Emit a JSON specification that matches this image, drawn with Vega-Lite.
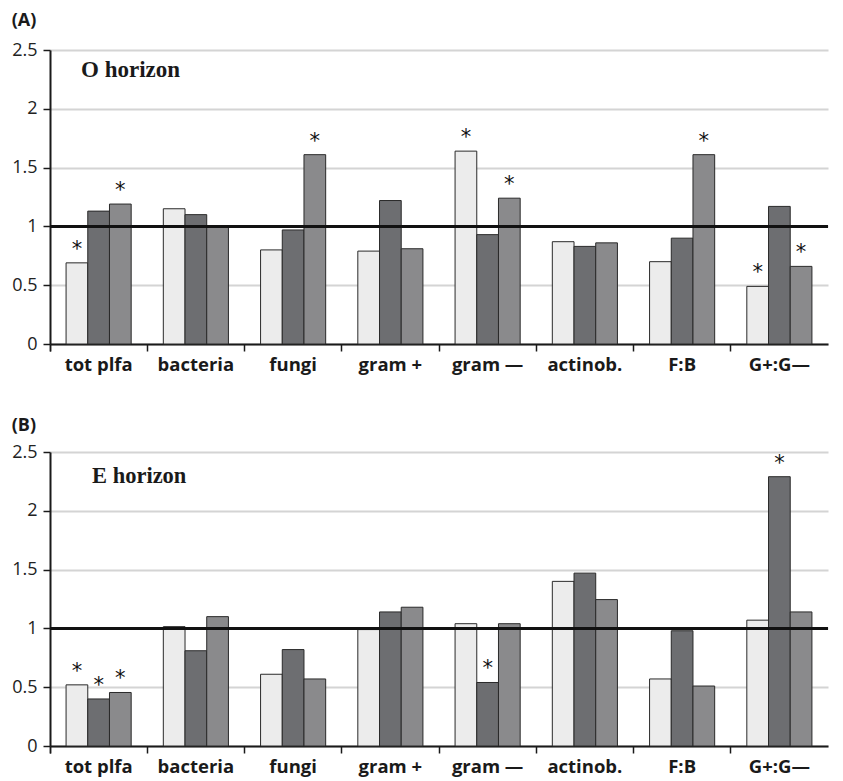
{
  "$schema": "https://vega.github.io/schema/vega-lite/v6.json",
  "padding": {"left": 11, "top": 12, "right": 10, "bottom": 3},
  "background": "white",
  "config": {
    "view": {"stroke": null},
    "font": "Open Sans",
    "concat": {"spacing": 43},
    "axisX": {
      "title": null, "labelAngle": 0, "bandPosition": 0, "tickExtra": true,
      "domainColor": "#1a1a1a", "domainWidth": 2, "tickColor": "#1a1a1a", "tickWidth": 1.5, "tickSize": 7,
      "labelFont": "Open Sans", "labelFontSize": 18.5, "labelFontWeight": "bold", "labelColor": "#1a1a1a", "labelPadding": 4, "grid": false
    },
    "axisY": {
      "title": null,
      "grid": true, "gridColor": "#d4d4d4", "gridWidth": 2,
      "domainColor": "#1a1a1a", "domainWidth": 2, "tickColor": "#1a1a1a", "tickWidth": 1.5, "tickSize": 7,
      "labelFont": "Open Sans", "labelFontSize": 18, "labelColor": "#222222", "labelPadding": 6
    }
  },
  "datasets": {
    "bars": [
      {"panel": "A", "cat": "tot plfa", "series": "1", "value": 0.69, "sig": "*"},
      {"panel": "A", "cat": "tot plfa", "series": "2", "value": 1.13, "sig": ""},
      {"panel": "A", "cat": "tot plfa", "series": "3", "value": 1.19, "sig": "*"},
      {"panel": "A", "cat": "bacteria", "series": "1", "value": 1.15, "sig": ""},
      {"panel": "A", "cat": "bacteria", "series": "2", "value": 1.10, "sig": ""},
      {"panel": "A", "cat": "bacteria", "series": "3", "value": 1.00, "sig": ""},
      {"panel": "A", "cat": "fungi", "series": "1", "value": 0.80, "sig": ""},
      {"panel": "A", "cat": "fungi", "series": "2", "value": 0.97, "sig": ""},
      {"panel": "A", "cat": "fungi", "series": "3", "value": 1.61, "sig": "*"},
      {"panel": "A", "cat": "gram +", "series": "1", "value": 0.79, "sig": ""},
      {"panel": "A", "cat": "gram +", "series": "2", "value": 1.22, "sig": ""},
      {"panel": "A", "cat": "gram +", "series": "3", "value": 0.81, "sig": ""},
      {"panel": "A", "cat": "gram —", "series": "1", "value": 1.64, "sig": "*"},
      {"panel": "A", "cat": "gram —", "series": "2", "value": 0.93, "sig": ""},
      {"panel": "A", "cat": "gram —", "series": "3", "value": 1.24, "sig": "*"},
      {"panel": "A", "cat": "actinob.", "series": "1", "value": 0.87, "sig": ""},
      {"panel": "A", "cat": "actinob.", "series": "2", "value": 0.83, "sig": ""},
      {"panel": "A", "cat": "actinob.", "series": "3", "value": 0.86, "sig": ""},
      {"panel": "A", "cat": "F:B", "series": "1", "value": 0.70, "sig": ""},
      {"panel": "A", "cat": "F:B", "series": "2", "value": 0.90, "sig": ""},
      {"panel": "A", "cat": "F:B", "series": "3", "value": 1.61, "sig": "*"},
      {"panel": "A", "cat": "G+:G—", "series": "1", "value": 0.49, "sig": "*"},
      {"panel": "A", "cat": "G+:G—", "series": "2", "value": 1.17, "sig": ""},
      {"panel": "A", "cat": "G+:G—", "series": "3", "value": 0.66, "sig": "*"},
      {"panel": "B", "cat": "tot plfa", "series": "1", "value": 0.52, "sig": "*"},
      {"panel": "B", "cat": "tot plfa", "series": "2", "value": 0.40, "sig": "*"},
      {"panel": "B", "cat": "tot plfa", "series": "3", "value": 0.455, "sig": "*"},
      {"panel": "B", "cat": "bacteria", "series": "1", "value": 1.015, "sig": ""},
      {"panel": "B", "cat": "bacteria", "series": "2", "value": 0.81, "sig": ""},
      {"panel": "B", "cat": "bacteria", "series": "3", "value": 1.10, "sig": ""},
      {"panel": "B", "cat": "fungi", "series": "1", "value": 0.61, "sig": ""},
      {"panel": "B", "cat": "fungi", "series": "2", "value": 0.82, "sig": ""},
      {"panel": "B", "cat": "fungi", "series": "3", "value": 0.57, "sig": ""},
      {"panel": "B", "cat": "gram +", "series": "1", "value": 0.99, "sig": ""},
      {"panel": "B", "cat": "gram +", "series": "2", "value": 1.14, "sig": ""},
      {"panel": "B", "cat": "gram +", "series": "3", "value": 1.18, "sig": ""},
      {"panel": "B", "cat": "gram —", "series": "1", "value": 1.04, "sig": ""},
      {"panel": "B", "cat": "gram —", "series": "2", "value": 0.54, "sig": "*"},
      {"panel": "B", "cat": "gram —", "series": "3", "value": 1.04, "sig": ""},
      {"panel": "B", "cat": "actinob.", "series": "1", "value": 1.40, "sig": ""},
      {"panel": "B", "cat": "actinob.", "series": "2", "value": 1.47, "sig": ""},
      {"panel": "B", "cat": "actinob.", "series": "3", "value": 1.245, "sig": ""},
      {"panel": "B", "cat": "F:B", "series": "1", "value": 0.57, "sig": ""},
      {"panel": "B", "cat": "F:B", "series": "2", "value": 0.98, "sig": ""},
      {"panel": "B", "cat": "F:B", "series": "3", "value": 0.51, "sig": ""},
      {"panel": "B", "cat": "G+:G—", "series": "1", "value": 1.07, "sig": ""},
      {"panel": "B", "cat": "G+:G—", "series": "2", "value": 2.29, "sig": "*"},
      {"panel": "B", "cat": "G+:G—", "series": "3", "value": 1.14, "sig": ""}
    ]
  },
  "vconcat": [
    {
      "width": 778, "height": 294,
      "title": {"text": "(A)", "anchor": "start", "frame": "bounds", "font": "Open Sans", "fontSize": 18, "fontWeight": "bold", "color": "#1a1a1a", "offset": 11},
      "layer": [
        {
          "data": {"name": "bars"},
          "transform": [{"filter": "datum.panel === 'A'"}],
          "mark": {"type": "bar", "stroke": "#2a2a2a", "strokeWidth": 1},
          "encoding": {
            "x": {"field": "cat", "type": "nominal", "sort": ["tot plfa", "bacteria", "fungi", "gram +", "gram —", "actinob.", "F:B", "G+:G—"], "scale": {"paddingInner": 0, "paddingOuter": 0}},
            "xOffset": {"field": "series", "type": "nominal", "scale": {"paddingInner": 0, "paddingOuter": 0.74}},
            "y": {"field": "value", "type": "quantitative", "scale": {"domain": [0, 2.5], "nice": false}, "axis": {"values": [0, 0.5, 1, 1.5, 2, 2.5], "format": "~g"}},
            "fill": {"field": "series", "type": "nominal", "scale": {"domain": ["1", "2", "3"], "range": ["#ececec", "#6d6e71", "#8a8a8c"]}, "legend": null}
          }
        },
        {
          "data": {"name": "bars"},
          "transform": [{"filter": "datum.panel === 'A'"}],
          "mark": {"type": "text", "font": "DejaVu Sans", "fontSize": 21, "baseline": "alphabetic", "dy": -7, "color": "#111111"},
          "encoding": {
            "x": {"field": "cat", "type": "nominal", "sort": ["tot plfa", "bacteria", "fungi", "gram +", "gram —", "actinob.", "F:B", "G+:G—"]},
            "xOffset": {"field": "series", "type": "nominal"},
            "y": {"field": "value", "type": "quantitative", "scale": {"domain": [0, 2.5], "nice": false}},
            "text": {"field": "sig"}
          }
        },
        {
          "data": {"values": [{"ref": 1}]},
          "mark": {"type": "rule", "strokeWidth": 3, "color": "#111111"},
          "encoding": {"y": {"field": "ref", "type": "quantitative", "scale": {"domain": [0, 2.5], "nice": false}}}
        },
        {
          "data": {"values": [{"cat": "tot plfa", "yv": 2.33, "label": "O horizon"}]},
          "mark": {"type": "text", "font": "Liberation Serif", "fontWeight": "bold", "fontSize": 23, "align": "left", "baseline": "middle", "dx": 31, "color": "#1a1a1a"},
          "encoding": {
            "x": {"field": "cat", "type": "nominal", "bandPosition": 0, "sort": ["tot plfa", "bacteria", "fungi", "gram +", "gram —", "actinob.", "F:B", "G+:G—"]},
            "y": {"field": "yv", "type": "quantitative", "scale": {"domain": [0, 2.5], "nice": false}},
            "text": {"field": "label"}
          }
        }
      ]
    },
    {
      "width": 778, "height": 294,
      "title": {"text": "(B)", "anchor": "start", "frame": "bounds", "font": "Open Sans", "fontSize": 18, "fontWeight": "bold", "color": "#1a1a1a", "offset": 8},
      "layer": [
        {
          "data": {"name": "bars"},
          "transform": [{"filter": "datum.panel === 'B'"}],
          "mark": {"type": "bar", "stroke": "#2a2a2a", "strokeWidth": 1},
          "encoding": {
            "x": {"field": "cat", "type": "nominal", "sort": ["tot plfa", "bacteria", "fungi", "gram +", "gram —", "actinob.", "F:B", "G+:G—"], "scale": {"paddingInner": 0, "paddingOuter": 0}},
            "xOffset": {"field": "series", "type": "nominal", "scale": {"paddingInner": 0, "paddingOuter": 0.74}},
            "y": {"field": "value", "type": "quantitative", "scale": {"domain": [0, 2.5], "nice": false}, "axis": {"values": [0, 0.5, 1, 1.5, 2, 2.5], "format": "~g"}},
            "fill": {"field": "series", "type": "nominal", "scale": {"domain": ["1", "2", "3"], "range": ["#ececec", "#6d6e71", "#8a8a8c"]}, "legend": null}
          }
        },
        {
          "data": {"name": "bars"},
          "transform": [{"filter": "datum.panel === 'B'"}],
          "mark": {"type": "text", "font": "DejaVu Sans", "fontSize": 21, "baseline": "alphabetic", "dy": -7, "color": "#111111"},
          "encoding": {
            "x": {"field": "cat", "type": "nominal", "sort": ["tot plfa", "bacteria", "fungi", "gram +", "gram —", "actinob.", "F:B", "G+:G—"]},
            "xOffset": {"field": "series", "type": "nominal"},
            "y": {"field": "value", "type": "quantitative", "scale": {"domain": [0, 2.5], "nice": false}},
            "text": {"field": "sig"}
          }
        },
        {
          "data": {"values": [{"ref": 1}]},
          "mark": {"type": "rule", "strokeWidth": 3, "color": "#111111"},
          "encoding": {"y": {"field": "ref", "type": "quantitative", "scale": {"domain": [0, 2.5], "nice": false}}}
        },
        {
          "data": {"values": [{"cat": "tot plfa", "yv": 2.3, "label": "E horizon"}]},
          "mark": {"type": "text", "font": "Liberation Serif", "fontWeight": "bold", "fontSize": 22.5, "align": "left", "baseline": "middle", "dx": 42, "color": "#1a1a1a"},
          "encoding": {
            "x": {"field": "cat", "type": "nominal", "bandPosition": 0, "sort": ["tot plfa", "bacteria", "fungi", "gram +", "gram —", "actinob.", "F:B", "G+:G—"]},
            "y": {"field": "yv", "type": "quantitative", "scale": {"domain": [0, 2.5], "nice": false}},
            "text": {"field": "label"}
          }
        }
      ]
    }
  ]
}
